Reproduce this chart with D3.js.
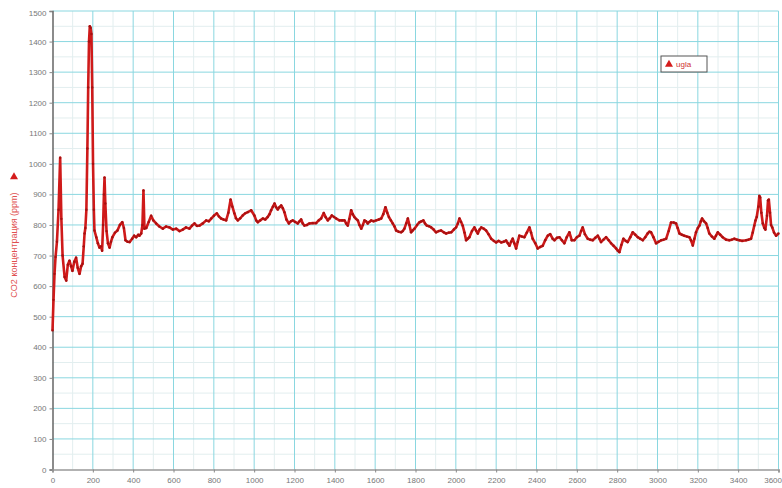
<!DOCTYPE html>
<html>
<head>
<meta charset="utf-8">
<script src="https://cdnjs.cloudflare.com/ajax/libs/d3/7.8.5/d3.min.js"></script>
<style>
  body { margin: 0; background: #fff; }
  svg { display: block; }
  text { font-family: "Liberation Sans", Arial, sans-serif; }
</style>
</head>
<body>
<div id="chart"></div>
<script>
// time axis (x) and CO2 readings
var timeData = [0,5,10,15,22,30,38,44,50,60,68,76,84,92,99,108,117,125,134,142,149,155,159,163,168,173,177,181,185,189,193,197,201,205,208,217,225,233,240,246,251,255,258,262,268,275,283,290,297,310,322,334,346,354,362,372,382,395,405,415,425,431,440,446,451,456,465,477,489,500,514,530,547,563,580,597,613,630,646,662,679,692,704,716,729,745,762,775,787,800,815,825,836,848,861,872,883,892,902,910,919,931,943,955,968,985,1001,1010,1018,1030,1043,1055,1067,1076,1084,1093,1101,1109,1117,1125,1134,1142,1150,1160,1172,1182,1191,1203,1216,1225,1233,1241,1249,1262,1274,1290,1307,1320,1332,1345,1355,1365,1375,1385,1396,1407,1423,1436,1448,1456,1464,1472,1481,1489,1497,1505,1514,1522,1531,1539,1547,1555,1563,1571,1580,1592,1605,1618,1630,1640,1651,1660,1668,1678,1687,1696,1704,1716,1729,1737,1745,1754,1762,1770,1778,1786,1795,1808,1820,1830,1839,1847,1856,1867,1878,1890,1902,1915,1927,1940,1952,1965,1977,1990,2001,2010,2018,2026,2034,2043,2051,2059,2067,2080,2092,2100,2109,2118,2126,2138,2150,2162,2175,2188,2200,2212,2225,2237,2249,2258,2266,2274,2282,2290,2299,2307,2315,2328,2340,2352,2365,2373,2381,2394,2406,2418,2431,2443,2456,2468,2480,2489,2502,2514,2526,2538,2550,2563,2575,2588,2600,2613,2621,2629,2640,2654,2666,2679,2692,2704,2712,2720,2732,2745,2758,2770,2782,2795,2803,2811,2821,2831,2842,2852,2865,2877,2890,2902,2914,2927,2939,2951,2960,2968,2980,2993,3005,3018,3030,3043,3055,3067,3080,3092,3100,3109,3121,3133,3146,3158,3166,3175,3183,3191,3200,3208,3215,3221,3231,3241,3249,3257,3270,3282,3290,3299,3311,3323,3340,3356,3368,3381,3393,3406,3420,3439,3450,3464,3472,3480,3486,3492,3500,3505,3509,3515,3522,3530,3535,3543,3548,3552,3558,3563,3569,3578,3588,3600];

var co2Data = [455,555,640,695,745,850,1020,820,700,630,618,670,683,665,650,680,693,660,640,665,673,730,772,790,850,1050,1250,1400,1450,1445,1425,1250,1000,850,782,760,740,726,730,716,800,900,955,870,780,740,726,745,760,775,782,800,809,790,750,745,744,755,765,760,768,765,772,800,913,788,790,810,830,815,805,795,788,795,792,785,788,780,785,792,788,798,805,797,798,805,815,812,821,830,838,828,821,818,815,840,883,860,838,822,815,822,831,838,842,848,831,815,809,815,821,818,826,835,848,860,870,858,851,858,864,855,842,818,805,812,815,810,805,812,818,805,798,800,805,806,806,815,821,839,825,815,822,831,826,821,815,815,815,805,798,820,848,835,826,820,815,800,788,800,815,812,805,810,815,812,815,818,821,835,858,840,826,815,805,795,782,778,776,780,788,805,821,800,776,782,788,800,809,812,815,805,798,796,792,785,776,780,782,776,772,775,776,785,792,805,821,810,798,775,750,755,760,780,792,782,772,785,792,788,782,770,755,748,743,748,743,745,749,740,732,745,755,740,723,745,765,762,760,775,792,775,755,740,723,728,732,750,765,770,755,750,758,760,750,740,760,776,750,750,760,765,780,792,770,755,752,750,758,765,755,744,752,760,750,740,732,723,716,711,735,755,748,744,760,776,768,760,755,750,760,772,778,776,760,740,745,750,752,755,780,808,808,805,790,772,768,765,762,760,750,733,755,776,790,798,812,821,812,805,790,772,762,755,765,776,768,760,752,750,752,755,752,750,748,750,752,755,775,798,815,826,860,895,890,840,805,790,785,830,880,883,840,800,792,775,765,772];

var xTicks = [0,200,400,600,800,1000,1200,1400,1600,1800,2000,2200,2400,2600,2800,3000,3200,3400,3600];
var yTicks = [0,100,200,300,400,500,600,700,800,900,1000,1100,1200,1300,1400,1500];
var xMinor = [100,300,500,700,900,1100,1300,1500,1700,1900,2100,2300,2500,2700,2900,3100,3300,3500];
var yMinor = [50,150,250,350,450,550,650,750,850,950,1050,1150,1250,1350,1450];
var legendLabel = "ugla";
var yTitle = "CO2 концентрация (ppm)";

var width = 782, height = 488;

var svg = d3.select("#chart").append("svg")
            .attr("width", width)
            .attr("height", height);

var x = d3.scaleLinear().domain([0, 3600]).range([52.5, 778.5]);
var y = d3.scaleLinear().domain([0, 1500]).range([469.5, 11]);

// minor grid
svg.selectAll("line.xminor").data(xMinor).enter().append("line")
   .attr("x1", function (d) { return x(d); })
   .attr("x2", function (d) { return x(d); })
   .attr("y1", y(1500)).attr("y2", y(0))
   .style("stroke", "#e2eeef").style("stroke-width", 1);

svg.selectAll("line.yminor").data(yMinor).enter().append("line")
   .attr("x1", x(0)).attr("x2", x(3600))
   .attr("y1", function (d) { return y(d); })
   .attr("y2", function (d) { return y(d); })
   .style("stroke", "#e2eeef").style("stroke-width", 1);

// major grid
svg.selectAll("line.xmajor").data(xTicks.slice(1)).enter().append("line")
   .attr("x1", function (d) { return x(d); })
   .attr("x2", function (d) { return x(d); })
   .attr("y1", y(1500)).attr("y2", y(0))
   .style("stroke", "#8ad7e0").style("stroke-width", 1);

svg.selectAll("line.ymajor").data(yTicks.slice(1)).enter().append("line")
   .attr("x1", x(0)).attr("x2", x(3600))
   .attr("y1", function (d) { return y(d); })
   .attr("y2", function (d) { return y(d); })
   .style("stroke", "#8ad7e0").style("stroke-width", 1);

// axes
var yAxis = svg.append("g")
               .attr("transform", "translate(" + x(0) + ",0)")
               .call(d3.axisLeft(y).tickValues(yTicks).tickSize(3).tickFormat(d3.format("d")));
var xAxis = svg.append("g")
               .attr("transform", "translate(0," + y(0) + ")")
               .call(d3.axisBottom(x).tickValues(xTicks).tickSize(3).tickFormat(d3.format("d")));

yAxis.select(".domain").style("stroke", "#666").style("stroke-width", 1.5);
xAxis.select(".domain").style("stroke", "#999").style("stroke-width", 1.5);
svg.selectAll(".tick line").style("stroke", "#888");
svg.selectAll(".tick text").style("fill", "#777").style("font-size", "8px");
xAxis.selectAll(".tick text").attr("dy", "0.9em");
xAxis.selectAll(".tick").filter(function (d) { return d === 3600; })
     .select("text").style("text-anchor", "end").attr("dx", 3);
yAxis.selectAll(".tick").filter(function (d) { return d === 1500; })
     .select("text").attr("dy", "0.6em");

// data line
var line = d3.line()
             .x(function (d, i) { return x(timeData[i]); })
             .y(function (d) { return y(d); });

svg.append("path")
   .datum(co2Data)
   .attr("d", line)
   .style("fill", "none")
   .style("stroke", "#cf1a1a")
   .style("stroke-width", 2.6)
   .style("stroke-linejoin", "round");

// small point markers along the trace
svg.selectAll("circle.pt").data(co2Data).enter().append("circle")
   .attr("cx", function (d, i) { return x(timeData[i]); })
   .attr("cy", function (d) { return y(d); })
   .attr("r", 1.2)
   .style("fill", "#a51010");

// y title
svg.append("text")
   .attr("transform", "translate(17,245) rotate(-90)")
   .style("text-anchor", "middle")
   .style("fill", "#e05050")
   .style("font-size", "9px")
   .text(yTitle);

svg.append("path")
   .attr("d", d3.symbol().type(d3.symbolTriangle).size(28))
   .attr("transform", "translate(14,177)")
   .style("fill", "#d41c1c");

// legend
var legend = svg.append("g").attr("transform", "translate(661,56)");
legend.append("rect")
      .attr("width", 46).attr("height", 16)
      .style("fill", "#fff").style("stroke", "#555").style("stroke-width", 1);
legend.append("path")
      .attr("d", d3.symbol().type(d3.symbolTriangle).size(28))
      .attr("transform", "translate(8,8.5)")
      .style("fill", "#d41c1c");
legend.append("text")
      .attr("x", 15).attr("y", 11)
      .style("fill", "#d03030")
      .style("font-size", "8px")
      .text(legendLabel);
</script>
</body>
</html>
